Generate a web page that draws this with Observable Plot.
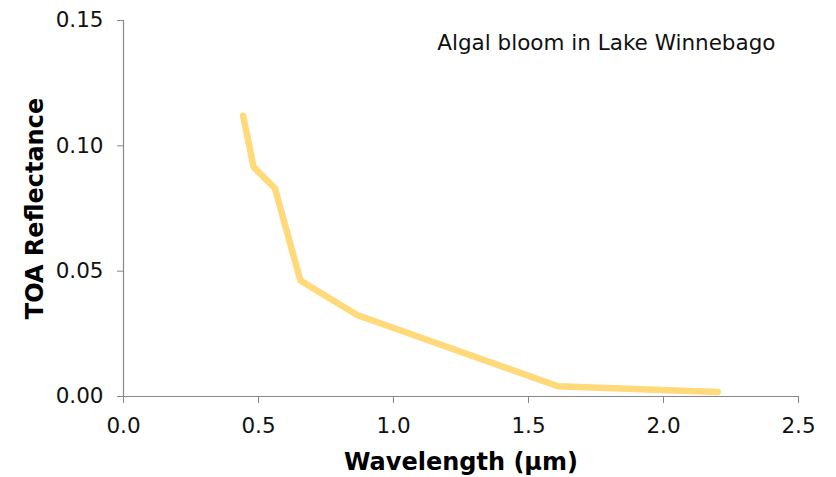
<!DOCTYPE html>
<html>
<head>
<meta charset="utf-8">
<script src="https://cdn.jsdelivr.net/npm/d3@7"></script>
<script src="https://cdn.jsdelivr.net/npm/@observablehq/plot@0.6"></script>
<style>
  html, body { margin: 0; padding: 0; background: #fff; }
  #chart svg { display: block; }
</style>
</head>
<body>
<div id="chart"></div>
<script>
// Data (Landsat 8 band centres, µm)
const wavelengths = [0.443, 0.482, 0.561, 0.655, 0.865, 1.609, 2.201];
const reflectance = [0.112, 0.0915, 0.083, 0.0463, 0.0325, 0.0041, 0.0018];
const xTicks = [0, 0.5, 1.0, 1.5, 2.0, 2.5];
const yTicks = [0, 0.05, 0.10, 0.15];
const titleText = "Algal bloom in Lake Winnebago";
const xLabel = "Wavelength (µm)";
const yLabel = "TOA Reflectance";

const data = wavelengths.map((w, i) => ({w, r: reflectance[i]}));
const font = "DejaVu Sans, Verdana, sans-serif";
const axisColor = "#888888";

const chart = Plot.plot({
  width: 836,
  height: 477,
  marginLeft: 123,
  marginRight: 38,
  marginTop: 20,
  marginBottom: 81,
  style: {fontFamily: font, fontSize: "21.5px", color: "#111", background: "#fff"},
  x: {domain: [0, 2.5]},
  y: {domain: [0, 0.15]},
  marks: [
    Plot.frame({anchor: "left", stroke: axisColor, strokeWidth: 1.2}),
    Plot.frame({anchor: "bottom", stroke: axisColor, strokeWidth: 1.2}),
    Plot.axisX({ticks: xTicks, tickFormat: d3.format(".1f"), tickSize: 7, tickPadding: 14,
      stroke: axisColor, fill: "#111", label: null, fontSize: 21.5}),
    Plot.axisY({ticks: yTicks, tickFormat: d3.format(".2f"), tickSize: 6, tickPadding: 14,
      stroke: axisColor, fill: "#111", label: null, fontSize: 21.5}),
    Plot.line(data, {x: "w", y: "r", stroke: "#FFD97A", strokeWidth: 6.5,
      strokeLinecap: "round", strokeLinejoin: "miter"}),
    Plot.text([titleText], {frameAnchor: "top-right", text: d => d, textAnchor: "end",
      lineAnchor: "middle", dx: -23, dy: 23, fontSize: 21.5, fill: "#111"}),
    Plot.text([xLabel], {frameAnchor: "bottom", text: d => d, textAnchor: "middle", lineAnchor: "middle",
      dy: 66, fontSize: 24, fontWeight: "bold", fill: "#000"}),
    Plot.text([yLabel], {frameAnchor: "left", text: d => d, textAnchor: "middle", lineAnchor: "middle",
      rotate: -90, dx: -88, fontSize: 24, fontWeight: "bold", fill: "#000"})
  ]
});
document.getElementById("chart").appendChild(chart);
</script>
</body>
</html>
